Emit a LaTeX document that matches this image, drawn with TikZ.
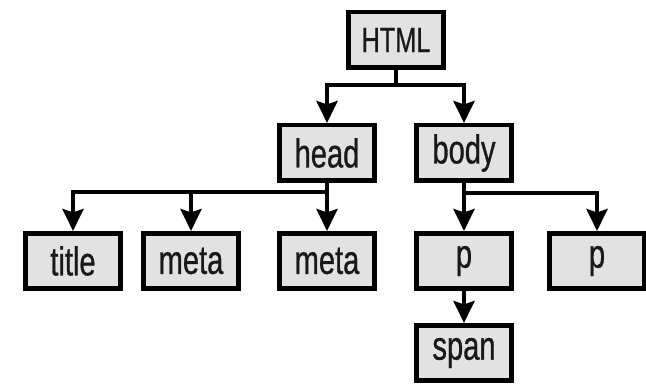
\documentclass[tikz,border=0pt]{standalone}
\usepackage{fontspec}
\setmainfont[FakeStretch=0.72,FakeBold=0.7]{Liberation Sans}
\usepackage{tikz}
\usetikzlibrary{arrows.meta}
\definecolor{BoxGray}{HTML}{E2E2E2}
\tikzset{BoxStyle/.style = {
			shape          = rectangle,
			draw           = black,
			fill           = BoxGray,
			text           = black!90,
			line width     = 0.09cm,
			inner sep      = 0pt,
			minimum width  = 1.91cm,
			minimum height = 1.11cm,
			font           = \fontsize{23}{26}\selectfont}
			}
\tikzset{EdgeStyle/.style = {line width=0.085cm,
			-{Stealth[length=0.44cm,width=0.42cm,inset=0.07cm]}}}
\tikzset{BarStyle/.style = {line width=0.085cm}}

\begin{document}
\begin{tikzpicture}[x=0.02cm,y=-0.02cm]
	\useasboundingbox (0,0) rectangle (646,384);
	\draw (396,40) node[BoxStyle,font=\fontsize{20}{24}\selectfont] (HTML) {HTML};
	\draw (327,153) node[BoxStyle] (head) {head};
	\draw (464,153) node[BoxStyle] (body) {body};
	\draw (73,261)  node[BoxStyle] (title) {title};
	\draw (191,261) node[BoxStyle] (metaA) {meta};
	\draw (327,261) node[BoxStyle] (metaB) {meta};
	\draw (464,261) node[BoxStyle] (pA) {p};
	\draw (597,261) node[BoxStyle] (pB) {p};
	\draw (464,353) node[BoxStyle] (span) {span};

	\coordinate (topBar)  at (396,85);
	\coordinate (headBar) at (327,192);
	\coordinate (bodyBar) at (464,193);

	\draw[BarStyle]  (HTML.south) -- (topBar);
	\draw[EdgeStyle] (topBar) -| (head.north);
	\draw[EdgeStyle] (topBar) -| (body.north);

	\draw[EdgeStyle] (head.south) -- (metaB.north);
	\draw[EdgeStyle] (headBar) -| (title.north);
	\draw[EdgeStyle] (headBar) -| (metaA.north);

	\draw[EdgeStyle] (body.south) -- (pA.north);
	\draw[EdgeStyle] (bodyBar) -| (pB.north);
	\draw[EdgeStyle] (pA.south) -- (span.north);
\end{tikzpicture}
\end{document}
